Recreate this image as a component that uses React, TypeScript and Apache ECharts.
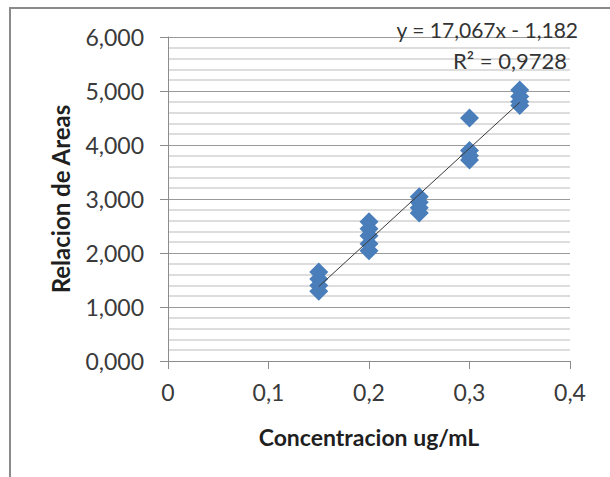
import React, { useEffect, useRef } from "react";
import * as echarts from "echarts";

// Calibration: ratio of peak areas vs concentration (ug/mL)
const conc015 = [0.15, 0.15, 0.15, 0.15];
const area015 = [1.65, 1.52, 1.4, 1.29];
const conc020 = [0.2, 0.2, 0.2, 0.2, 0.2];
const area020 = [2.58, 2.45, 2.32, 2.17, 2.04];
const conc025 = [0.25, 0.25, 0.25, 0.25];
const area025 = [3.04, 2.94, 2.84, 2.74];
const conc030 = [0.3, 0.3, 0.3, 0.3];
const area030 = [4.5, 3.9, 3.8, 3.72];
const conc035 = [0.35, 0.35, 0.35, 0.35];
const area035 = [5.02, 4.9, 4.8, 4.73];

// Linear trendline reported by the fit
const slope = 17.067;
const intercept = -1.182;
const rSquared = 0.9728;
const trendRange = [0.15, 0.35];

const xTicks = { min: 0, max: 0.4, interval: 0.1 };
const yTicks = { min: 0, max: 6, interval: 1 };

const FONT = "Lato";

function comma(v: number, digits: number) {
  return v.toFixed(digits).replace(".", ",");
}

export default function App() {
  const ref = useRef<HTMLDivElement>(null);

  useEffect(() => {
    if (!ref.current) return;
    const chart = echarts.init(ref.current, undefined, { renderer: "svg" });

    const points: number[][] = [];
    const groups: [number[], number[]][] = [
      [conc015, area015],
      [conc020, area020],
      [conc025, area025],
      [conc030, area030],
      [conc035, area035],
    ];
    groups.forEach(([xs, ys]) => xs.forEach((x, i) => points.push([x, ys[i]])));

    const trend = trendRange.map((x) => [x, slope * x + intercept]);

    chart.setOption({
      animation: false,
      backgroundColor: "#ffffff",
      grid: { left: 168, right: 40, top: 37, bottom: 116, containLabel: false },
      xAxis: {
        type: "value",
        min: xTicks.min,
        max: xTicks.max,
        interval: xTicks.interval,
        name: "Concentracion ug/mL",
        nameLocation: "middle",
        nameGap: 64,
        nameTextStyle: { fontFamily: FONT, fontSize: 23, fontWeight: "bold", color: "#1f1f1f" },
        axisLine: { lineStyle: { color: "#8c8c8c", width: 1 } },
        axisTick: { show: true, length: 8, lineStyle: { color: "#8c8c8c" } },
        axisLabel: {
          fontFamily: FONT,
          fontSize: 23,
          color: "#3a3a3a",
          margin: 19,
          formatter: (v: number) => (v === 0 ? "0" : comma(v, 1)),
        },
        splitLine: { show: false },
      },
      yAxis: {
        type: "value",
        min: yTicks.min,
        max: yTicks.max,
        interval: yTicks.interval,
        name: "Relacion de Areas",
        nameLocation: "middle",
        nameGap: 96,
        nameTextStyle: { fontFamily: FONT, fontSize: 24, fontWeight: "bold", color: "#1f1f1f" },
        axisLine: { show: true, lineStyle: { color: "#8c8c8c", width: 1 } },
        axisTick: { show: true, length: 8, lineStyle: { color: "#8c8c8c" } },
        axisLabel: {
          fontFamily: FONT,
          fontSize: 23,
          color: "#3a3a3a",
          margin: 24,
          formatter: (v: number) => comma(v, 3),
        },
        splitLine: { show: true, lineStyle: { color: "#9a9a9a", width: 1 } },
        minorTick: { show: false, splitNumber: 5 },
        minorSplitLine: { show: true, lineStyle: { color: "#d2d2d2", width: 1.5 } },
      },
      series: [
        {
          type: "scatter",
          data: points,
          symbol: "diamond",
          symbolSize: [19, 19],
          itemStyle: { color: "#4a7ebb", opacity: 1 },
          z: 2,
        },
        {
          type: "line",
          data: trend,
          symbol: "none",
          lineStyle: { color: "#3a3a3a", width: 1 },
          z: 3,
        },
      ],
      graphic: [
        {
          type: "rect",
          shape: { x: 10, y: 8, width: 700, height: 600 },
          style: { fill: "none", stroke: "#8a8a8a", lineWidth: 2 },
          silent: true,
        },
        {
          type: "text",
          x: 578,
          y: 29,
          style: {
            text: `y = ${comma(slope, 3)}x - ${comma(-intercept, 3)}`,
            fontFamily: FONT,
            fontSize: 21,
            fill: "#333333",
            align: "right",
            verticalAlign: "middle",
          },
          z: 10,
        },
        {
          type: "text",
          x: 567,
          y: 60,
          style: {
            text: `R² = ${comma(rSquared, 4)}`,
            fontFamily: FONT,
            fontSize: 22,
            fill: "#333333",
            align: "right",
            verticalAlign: "middle",
          },
          z: 10,
        },
      ],
    });

    return () => chart.dispose();
  }, []);

  return (
    <div
      ref={ref}
      style={{ position: "fixed", left: 0, top: 0, width: 610, height: 477 }}
    />
  );
}
